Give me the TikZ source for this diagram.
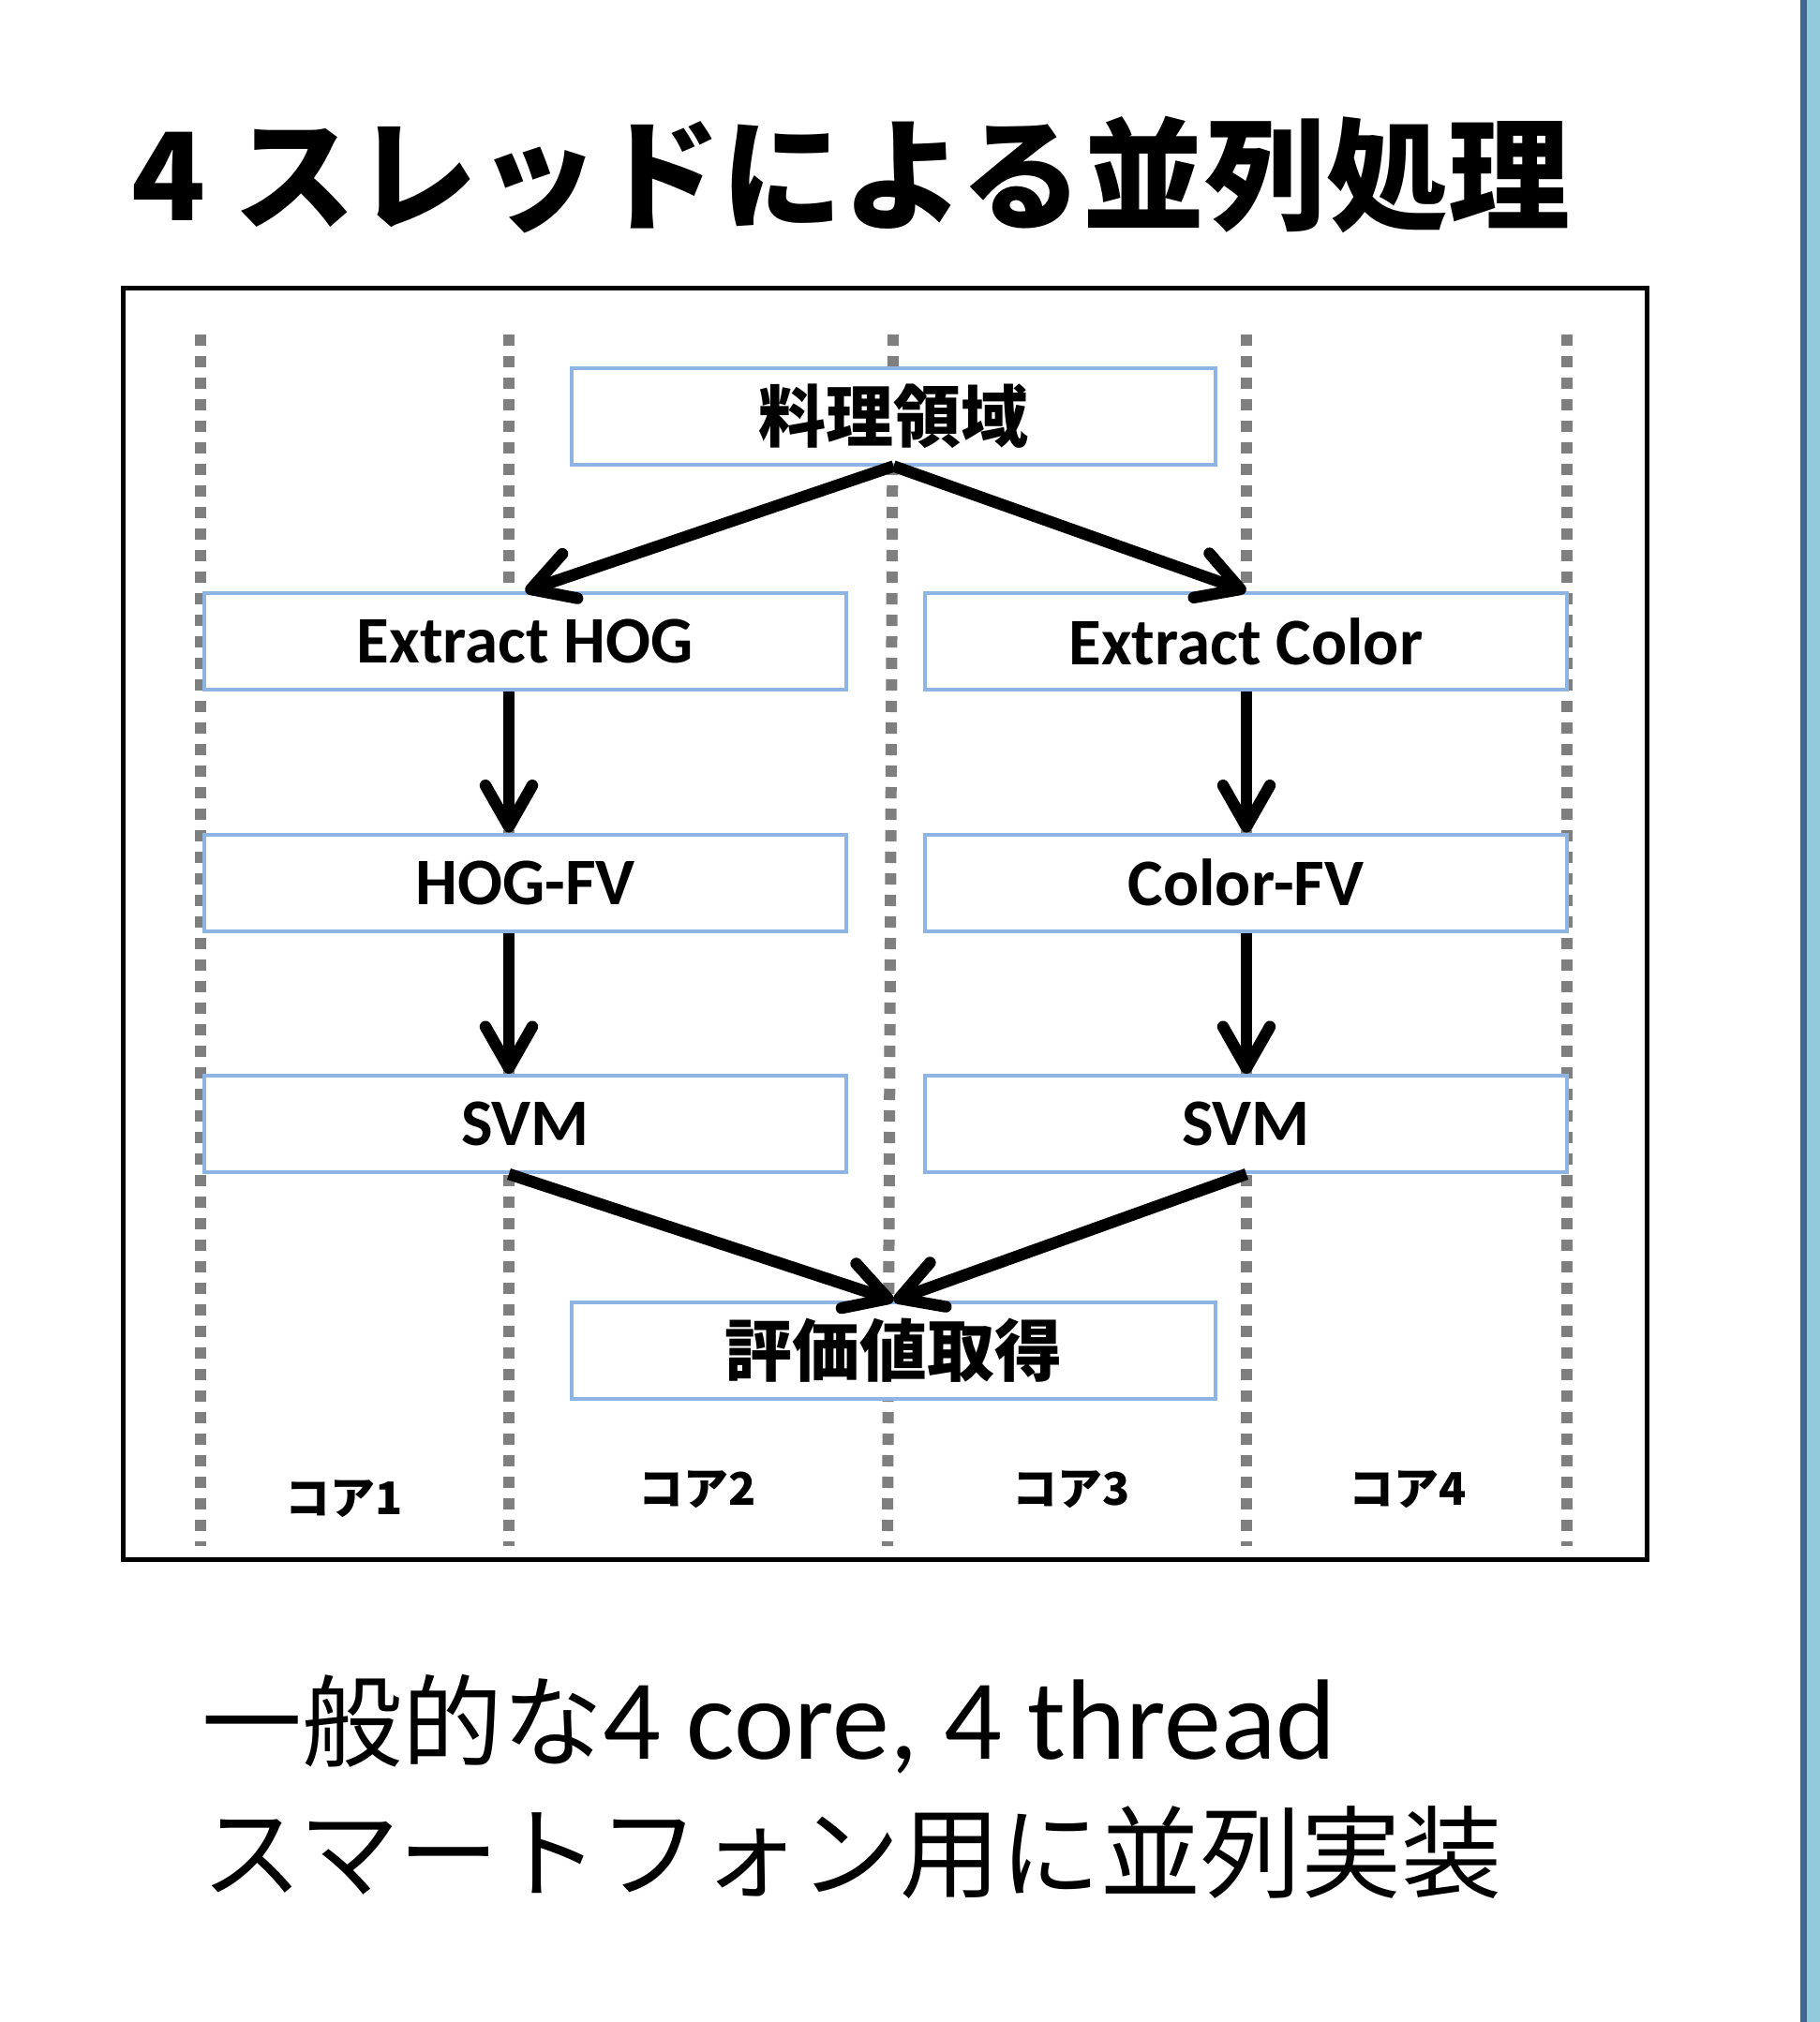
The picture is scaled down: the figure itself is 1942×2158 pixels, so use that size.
\documentclass[tikz,border=0pt]{standalone}
\usepackage{fontspec}
\usetikzlibrary{arrows.meta}
\newfontfamily\jpfont{Noto Sans CJK JP}
\newfontfamily\carlitofont{Carlito}
\definecolor{boxblue}{HTML}{8EB4E3}
\definecolor{dotgray}{HTML}{7F7F7F}
\definecolor{stripedark}{HTML}{3E6594}
\definecolor{stripelight}{HTML}{92CADC}
\begin{document}
\begin{tikzpicture}[x=1pt,y=-1pt,
  procbox/.style={draw=boxblue, line width=4pt, fill=white, minimum width=685pt, minimum height=103pt, inner sep=0pt},
  latinlabel/.style={font=\carlitofont\bfseries\fontsize{71}{80}\selectfont},
  jplabel/.style={font=\jpfont\bfseries\fontsize{72}{80}\selectfont},
  corelabel/.style={font=\jpfont\bfseries\fontsize{48}{56}\selectfont, inner sep=0pt},
  coreline/.style={draw=dotgray, line width=12pt, dash pattern=on 12pt off 11pt},
  flow/.style={line width=12.5pt, -{Straight Barb[length=44pt,width=50pt,line width=12.5pt,round]}}]
\useasboundingbox (0,0) rectangle (1942,2158);
\fill[white] (0,0) rectangle (1942,2158);
\fill[stripedark] (1921,0) rectangle (1928,2158);
\fill[stripelight] (1928,0) rectangle (1942,2158);

% title
\node[anchor=base west, inner sep=0pt, font=\jpfont\bfseries\fontsize{130}{140}\selectfont] (title) at (140,235) {4 スレッドによる並列処理};

% frame
\draw[line width=5pt] (131,307) rectangle (1757,1664);

% core boundaries
\coordinate (d1t) at (214,357);  \coordinate (d1b) at (214,1650);
\coordinate (d2t) at (543,357);  \coordinate (d2b) at (543,1650);
\coordinate (d3t) at (953,357);  \coordinate (d3b) at (947,1650);
\coordinate (d4t) at (1330,357); \coordinate (d4b) at (1330,1650);
\coordinate (d5t) at (1672,357); \coordinate (d5b) at (1672,1650);
\foreach \i in {1,...,5} { \draw[coreline] (d\i t) -- (d\i b); }

% boxes
\node[procbox, jplabel, minimum width=687pt] (ryouri) at (953.5,444) {料理領域};
\node[procbox, latinlabel] (hog) at (560.5,684.5) {Extract HOG};
\node[procbox, latinlabel] (color) at (1329.5,684.5) {Extract Color};
\node[procbox, latinlabel] (hogfv) at (560.5,942) {HOG-FV};
\node[procbox, latinlabel] (colorfv) at (1329.5,942) {Color-FV};
\node[procbox, latinlabel] (svm1) at (560.5,1199.5) {SVM};
\node[procbox, latinlabel] (svm2) at (1329.5,1199.5) {SVM};
\node[procbox, jplabel, minimum width=687pt] (eval) at (953.5,1441.5) {評価値取得};

% arrows
\draw[flow] (ryouri.south) -- (hog.north);
\draw[flow] (ryouri.south) -- (color.north);
\draw[flow] (hog.south -| d2t) -- (hogfv.north -| d2t);
\draw[flow] (hogfv.south -| d2t) -- (svm1.north -| d2t);
\draw[flow] (color.south -| d4t) -- (colorfv.north -| d4t);
\draw[flow] (colorfv.south -| d4t) -- (svm2.north -| d4t);
\draw[flow] (svm1.south -| d2t) -- (eval.north);
\draw[flow] (svm2.south -| d4t) -- (eval.north);

% core labels
\node[corelabel] (core1) at (367,1600) {コア1};
\node[corelabel] (core2) at (744,1590) {コア2};
\node[corelabel] (core3) at (1143,1590) {コア3};
\node[corelabel] (core4) at (1502,1590) {コア4};

% bottom text
\node[anchor=base west, inner sep=0pt, font=\jpfont\fontsize{107}{120}\selectfont] (line1) at (215,1877) {一般的な{\carlitofont\fontsize{122}{130}\selectfont 4 core, 4 thread}};
\node[anchor=base west, inner sep=0pt, font=\jpfont\fontsize{107}{120}\selectfont] (line2) at (215,2017) {スマートフォン用に並列実装};
\end{tikzpicture}
\end{document}
